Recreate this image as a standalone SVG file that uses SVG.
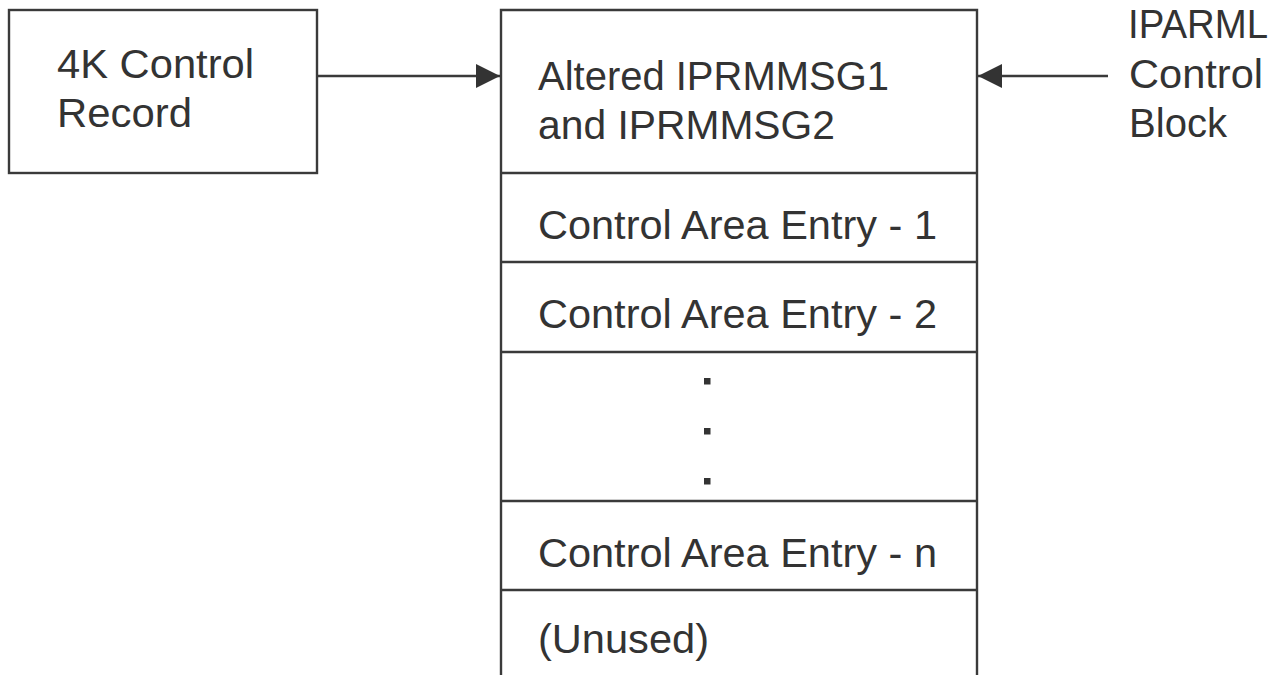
<svg xmlns="http://www.w3.org/2000/svg" width="1286" height="675" viewBox="0 0 1286 675">
<style>
.box{fill:#fff;stroke:#3a3a3a;stroke-width:2.4}
.ln{stroke:#3a3a3a;stroke-width:2.4;fill:none}
.t{font-family:"Liberation Sans",Arial,sans-serif;font-size:40px;fill:#333}
.dot{fill:#333}
</style>
<defs>
<marker id="arr" viewBox="0 0 24 24" refX="24" refY="12" markerWidth="24" markerHeight="24" markerUnits="userSpaceOnUse" orient="auto">
<path d="M0,0 L24,12 L0,24 Z" fill="#333"/>
</marker>
</defs>
<rect width="1286" height="675" fill="#fff"/>
<g id="control-record">
<rect class="box" x="9" y="10" width="308" height="163"/>
<text class="t" x="57" y="78" textLength="197" lengthAdjust="spacingAndGlyphs">4K Control</text>
<text class="t" x="57" y="127" textLength="135" lengthAdjust="spacingAndGlyphs">Record</text>
</g>
<g id="storage-area">
<path class="ln" d="M501,680 L501,10 L977,10 L977,680"/>
<line class="ln" x1="501" y1="173" x2="977" y2="173"/>
<line class="ln" x1="501" y1="262" x2="977" y2="262"/>
<line class="ln" x1="501" y1="352" x2="977" y2="352"/>
<line class="ln" x1="501" y1="501" x2="977" y2="501"/>
<line class="ln" x1="501" y1="590" x2="977" y2="590"/>
</g>
<g id="altered-msg">
<text class="t" x="538" y="90" textLength="351" lengthAdjust="spacingAndGlyphs">Altered IPRMMSG1</text>
<text class="t" x="538" y="139" textLength="297" lengthAdjust="spacingAndGlyphs">and IPRMMSG2</text>
</g>
<g id="entry-1"><text class="t" x="538" y="239" textLength="399" lengthAdjust="spacingAndGlyphs">Control Area Entry - 1</text></g>
<g id="entry-2"><text class="t" x="538" y="328" textLength="399" lengthAdjust="spacingAndGlyphs">Control Area Entry - 2</text></g>
<g id="ellipsis">
<rect class="dot" x="704" y="378" width="6.5" height="6.5"/>
<rect class="dot" x="704" y="428" width="6.5" height="6.5"/>
<rect class="dot" x="704" y="478" width="6.5" height="6.5"/>
</g>
<g id="entry-n"><text class="t" x="538" y="567" textLength="399" lengthAdjust="spacingAndGlyphs">Control Area Entry - n</text></g>
<g id="unused"><text class="t" x="538" y="653" textLength="171" lengthAdjust="spacingAndGlyphs">(Unused)</text></g>
<g id="iparml">
<text class="t" x="1128" y="38" textLength="140" lengthAdjust="spacingAndGlyphs">IPARML</text>
<text class="t" x="1129" y="88" textLength="134" lengthAdjust="spacingAndGlyphs">Control</text>
<text class="t" x="1129" y="137" textLength="98" lengthAdjust="spacingAndGlyphs">Block</text>
</g>
<g id="connectors">
<line class="ln" x1="317" y1="76" x2="500" y2="76" marker-end="url(#arr)"/>
<line class="ln" x1="1108" y1="76" x2="978" y2="76" marker-end="url(#arr)"/>
</g>
</svg>
